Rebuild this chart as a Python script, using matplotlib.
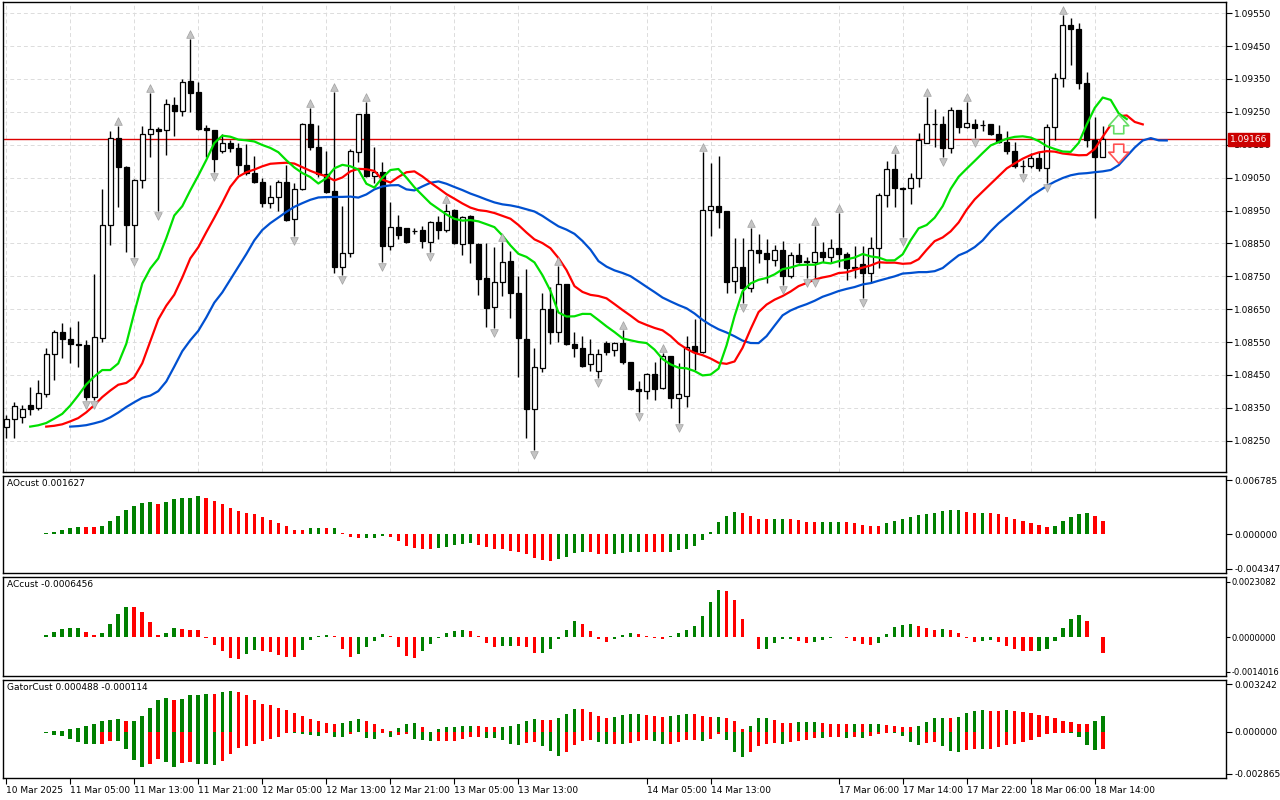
import numpy as np
import pandas as pd
import matplotlib
matplotlib.use("Agg")
import matplotlib.pyplot as plt
import matplotlib.transforms as mtransforms

# EURUSD H1, 10 Mar 21:00 .. 18 Mar
opens = [1.08292, 1.08316, 1.08322, 1.08359, 1.08350, 1.08392, 1.08514, 1.08581, 1.08559, 1.08544,
         1.08541, 1.08383, 1.08563, 1.08906, 1.09171, 1.09082, 1.08906, 1.09043, 1.09183, 1.09198,
         1.09195, 1.09271, 1.09253, 1.09344, 1.09310, 1.09201, 1.09195, 1.09131, 1.09155, 1.09140,
         1.09088, 1.09064, 1.09037, 1.08973, 1.08991, 1.09037, 1.08924, 1.09015, 1.09213, 1.09143,
         1.09061, 1.09009, 1.08778, 1.08821, 1.09128, 1.09243, 1.09055, 1.09067, 1.08842, 1.08900,
         1.08897, 1.08888, 1.08891, 1.08854, 1.08915, 1.08891, 1.08952, 1.08848, 1.08933, 1.08848,
         1.08745, 1.08657, 1.08733, 1.08797, 1.08699, 1.08559, 1.08347, 1.08471, 1.08651, 1.08581,
         1.08727, 1.08544, 1.08532, 1.08483, 1.08462, 1.08547, 1.08526, 1.08547, 1.08490, 1.08407,
         1.08401, 1.08453, 1.08411, 1.08508, 1.08380, 1.08386, 1.08538, 1.08520, 1.08952, 1.08964,
         1.08949, 1.08736, 1.08778, 1.08715, 1.08830, 1.08821, 1.08800, 1.08830, 1.08751, 1.08815,
         1.08794, 1.08794, 1.08824, 1.08809, 1.08836, 1.08818, 1.08778, 1.08787, 1.08760, 1.08836,
         1.08997, 1.09076, 1.09019, 1.09019, 1.09049, 1.09155, 1.09213, 1.09213, 1.09140, 1.09256,
         1.09204, 1.09213, 1.09210, 1.09213, 1.09183, 1.09158, 1.09131, 1.09085, 1.09085, 1.09110,
         1.09079, 1.09204, 1.09353, 1.09514, 1.09502, 1.09338, 1.09164, 1.09113]
highs = [1.08328, 1.08368, 1.08359, 1.08414, 1.08435, 1.08532, 1.08587, 1.08608, 1.08596, 1.08614,
         1.08556, 1.08757, 1.09015, 1.09192, 1.09207, 1.09085, 1.09046, 1.09207, 1.09307, 1.09204,
         1.09289, 1.09295, 1.09350, 1.09471, 1.09341, 1.09210, 1.09195, 1.09183, 1.09164, 1.09155,
         1.09152, 1.09116, 1.09049, 1.09028, 1.09043, 1.09088, 1.09034, 1.09216, 1.09262, 1.09210,
         1.09131, 1.09310, 1.08964, 1.09137, 1.09243, 1.09280, 1.09143, 1.09098, 1.08976, 1.08936,
         1.08897, 1.08897, 1.08903, 1.08918, 1.08933, 1.08970, 1.08955, 1.08933, 1.08936, 1.08851,
         1.08851, 1.08839, 1.08854, 1.08827, 1.08751, 1.08772, 1.08532, 1.08699, 1.08718, 1.08781,
         1.08727, 1.08581, 1.08569, 1.08559, 1.08529, 1.08553, 1.08550, 1.08587, 1.08490, 1.08432,
         1.08456, 1.08490, 1.08517, 1.08508, 1.08487, 1.08569, 1.08620, 1.09128, 1.09095, 1.09116,
         1.08949, 1.08867, 1.08867, 1.08897, 1.08879, 1.08863, 1.08845, 1.08857, 1.08824, 1.08851,
         1.08809, 1.08903, 1.08854, 1.08863, 1.08943, 1.08824, 1.08842, 1.08842, 1.08870, 1.09003,
         1.09101, 1.09122, 1.09022, 1.09064, 1.09186, 1.09295, 1.09259, 1.09237, 1.09265, 1.09256,
         1.09280, 1.09228, 1.09225, 1.09213, 1.09210, 1.09192, 1.09158, 1.09104, 1.09125, 1.09128,
         1.09213, 1.09368, 1.09544, 1.09535, 1.09520, 1.09371, 1.09234, 1.09207]
lows = [1.08258, 1.08258, 1.08304, 1.08328, 1.08344, 1.08383, 1.08435, 1.08502, 1.08487, 1.08474,
        1.08374, 1.08374, 1.08550, 1.08845, 1.08961, 1.08824, 1.08809, 1.09019, 1.09113, 1.08949,
        1.09119, 1.09177, 1.09237, 1.09250, 1.09195, 1.09113, 1.09067, 1.09125, 1.09128, 1.09058,
        1.09058, 1.09034, 1.08961, 1.08958, 1.08949, 1.08918, 1.08873, 1.09012, 1.09134, 1.09052,
        1.09003, 1.08760, 1.08754, 1.08809, 1.09098, 1.09052, 1.09034, 1.08794, 1.08830, 1.08863,
        1.08851, 1.08879, 1.08836, 1.08824, 1.08863, 1.08885, 1.08848, 1.08815, 1.08791, 1.08693,
        1.08596, 1.08593, 1.08690, 1.08623, 1.08444, 1.08258, 1.08222, 1.08459, 1.08544, 1.08550,
        1.08541, 1.08505, 1.08474, 1.08462, 1.08441, 1.08511, 1.08508, 1.08483, 1.08404, 1.08338,
        1.08377, 1.08374, 1.08407, 1.08350, 1.08304, 1.08353, 1.08465, 1.08517, 1.08873, 1.08897,
        1.08699, 1.08699, 1.08669, 1.08702, 1.08791, 1.08730, 1.08781, 1.08724, 1.08745, 1.08791,
        1.08745, 1.08745, 1.08794, 1.08794, 1.08778, 1.08739, 1.08745, 1.08684, 1.08730, 1.08775,
        1.08961, 1.08961, 1.08870, 1.08970, 1.09022, 1.09155, 1.09143, 1.09113, 1.09125, 1.09186,
        1.09201, 1.09171, 1.09192, 1.09180, 1.09155, 1.09122, 1.09079, 1.09064, 1.09079, 1.09070,
        1.09034, 1.09164, 1.09326, 1.09392, 1.09319, 1.09143, 1.08927, 1.09113]
closes = [1.08316, 1.08356, 1.08347, 1.08347, 1.08395, 1.08514, 1.08581, 1.08559, 1.08544, 1.08541,
          1.08383, 1.08566, 1.08906, 1.09171, 1.09082, 1.08906, 1.09043, 1.09183, 1.09198, 1.09192,
          1.09274, 1.09253, 1.09341, 1.09307, 1.09198, 1.09195, 1.09107, 1.09155, 1.09140, 1.09088,
          1.09064, 1.09037, 1.08973, 1.08991, 1.09037, 1.08921, 1.09015, 1.09213, 1.09143, 1.09061,
          1.09006, 1.08778, 1.08821, 1.09131, 1.09243, 1.09055, 1.09067, 1.08842, 1.08900, 1.08876,
          1.08854, 1.08888, 1.08857, 1.08915, 1.08891, 1.08949, 1.08851, 1.08930, 1.08851, 1.08742,
          1.08654, 1.08733, 1.08794, 1.08699, 1.08563, 1.08347, 1.08474, 1.08651, 1.08581, 1.08727,
          1.08544, 1.08532, 1.08477, 1.08514, 1.08514, 1.08520, 1.08547, 1.08490, 1.08407, 1.08401,
          1.08453, 1.08407, 1.08508, 1.08380, 1.08392, 1.08535, 1.08520, 1.08952, 1.08964, 1.08946,
          1.08733, 1.08778, 1.08715, 1.08830, 1.08821, 1.08803, 1.08830, 1.08751, 1.08815, 1.08794,
          1.08794, 1.08824, 1.08809, 1.08836, 1.08818, 1.08775, 1.08775, 1.08760, 1.08836, 1.08997,
          1.09076, 1.09019, 1.09015, 1.09049, 1.09164, 1.09213, 1.09213, 1.09140, 1.09256, 1.09204,
          1.09216, 1.09201, 1.09210, 1.09183, 1.09158, 1.09131, 1.09085, 1.09085, 1.09110, 1.09079,
          1.09204, 1.09353, 1.09514, 1.09502, 1.09338, 1.09164, 1.09113, 1.09166]

last_price = 1.09166
tick_bars = [0, 8, 16, 24, 32, 40, 48, 56, 64, 80, 88, 104, 112, 120, 128, 136]
tick_labels = ["10 Mar 2025", "11 Mar 05:00", "11 Mar 13:00", "11 Mar 21:00", "12 Mar 05:00",
               "12 Mar 13:00", "12 Mar 21:00", "13 Mar 05:00", "13 Mar 13:00", "14 Mar 05:00",
               "14 Mar 13:00", "17 Mar 06:00", "17 Mar 14:00", "17 Mar 22:00", "18 Mar 06:00",
               "18 Mar 14:00"]

o = np.array(opens); h = np.array(highs); l = np.array(lows); c = np.array(closes)
n = len(c)
idx = np.arange(n)
med = pd.Series((h + l) / 2)

def smma(s, p):
    return s.ewm(alpha=1.0 / p, adjust=False).mean().values

jaw = smma(med, 13); teeth = smma(med, 8); lips = smma(med, 5)
ao = (med.rolling(5, min_periods=1).mean() - med.rolling(34, min_periods=1).mean()).values
ac = ao - pd.Series(ao).rolling(5, min_periods=1).mean().values
# gator uses the shifted lines
jaw_s = np.r_[np.full(8, jaw[0]), jaw][:n]
teeth_s = np.r_[np.full(5, teeth[0]), teeth][:n]
lips_s = np.r_[np.full(3, lips[0]), lips][:n]
g_up = np.abs(jaw_s - teeth_s)
g_dn = -np.abs(teeth_s - lips_s)

GREEN = "#008000"
RED = "#ff0000"

def rise_colors(v, absval=False):
    a = np.abs(v) if absval else v
    cols = [GREEN]
    for i in range(1, len(v)):
        cols.append(GREEN if a[i] > a[i - 1] else RED)
    return cols

plt.rcParams["font.family"] = ["DejaVu Sans"]
plt.rcParams["font.size"] = 6.5
fig = plt.figure(figsize=(12.8, 8), dpi=100)
L, W = 3 / 1280, 1223 / 1280
ax = fig.add_axes([L, 1 - 472 / 800, W, 470 / 800])
ax_ao = fig.add_axes([L, 1 - 573 / 800, W, 97 / 800], sharex=ax)
ax_ac = fig.add_axes([L, 1 - 676 / 800, W, 99 / 800], sharex=ax)
ax_g = fig.add_axes([L, 1 - 778 / 800, W, 98 / 800], sharex=ax)

# --- main price panel ---
ax.set_ylim(1.08155, 1.09584)
ax.set_xlim(-0.4, 152.4)
yt = np.arange(1.0825, 1.09551, 0.001)
ax.set_yticks(yt)
ax.set_yticklabels(["%.5f" % v for v in yt])
ax.set_xticks(np.arange(0, 153, 4))
ax.grid(True, color="#dcdcdc", linestyle=(0, (4, 3)), linewidth=0.7)
ax.set_axisbelow(True)

ax.vlines(idx, l, h, color="black", linewidth=1, zorder=2)
up = c >= o
body_lo = np.minimum(o, c)
body_h = np.maximum(np.abs(c - o), 0.000012)
ax.bar(idx, body_h, bottom=body_lo, width=0.6, color=np.where(up, "white", "black"),
       edgecolor="black", linewidth=0.9, zorder=3)

ax.plot(idx + 8, jaw, color="#0050d0", linewidth=1.6, zorder=4)
ax.plot(idx + 5, teeth, color="#ff0000", linewidth=1.6, zorder=4)
ax.plot(idx + 3, lips, color="#00e000", linewidth=1.6, zorder=4)

# fractals
for i in range(2, n - 2):
    if h[i] == h[i - 2:i + 3].max():
        ax.scatter(i, h[i] + 0.00016, marker="^", s=30, color="#c4c4c4", edgecolor="#a0a0a0",
                   linewidth=0.5, zorder=5)
    if l[i] == l[i - 2:i + 3].min():
        ax.scatter(i, l[i] - 0.00016, marker="v", s=30, color="#c4c4c4", edgecolor="#a0a0a0",
                   linewidth=0.5, zorder=5)

# signal arrows
arrow_style = "simple,head_width=0.9,head_length=0.5,tail_width=0.45"
ax.annotate("", xy=(139, 1.09250), xytext=(139, 1.09175),
            arrowprops=dict(arrowstyle=arrow_style, mutation_scale=16,
                            facecolor="white", edgecolor="#66dd66", linewidth=1.2), zorder=6)
ax.annotate("", xy=(139, 1.09085), xytext=(139, 1.09160),
            arrowprops=dict(arrowstyle=arrow_style, mutation_scale=16,
                            facecolor="white", edgecolor="#ff5050", linewidth=1.2), zorder=6)

ax.axhline(last_price, color="#dd0000", linewidth=1, zorder=1)
trans = mtransforms.blended_transform_factory(ax.transAxes, ax.transData)
ax.text(1.003, last_price, "%.5f" % last_price, transform=trans, va="center", ha="left",
        color="white", fontsize=6.5, bbox=dict(boxstyle="square,pad=0.2", facecolor="#cc0000",
                                               edgecolor="#cc0000"), zorder=10, clip_on=False)

# --- sub panels ---
def setup_sub(a, lo, hi, fmt, title, size=6.5):
    pad = (hi - lo) * 0.05
    a.set_ylim(lo - pad, hi + pad)
    a.set_yticks([hi, 0.0, lo])
    a.set_yticklabels([fmt % hi, fmt % 0.0, fmt % lo])
    a.tick_params(axis="y", labelsize=size)
    a.text(0.003, 0.97, title, transform=a.transAxes, va="top", ha="left", fontsize=6.5)

for a in (ax, ax_ao, ax_ac, ax_g):
    a.yaxis.tick_right()
    a.tick_params(axis="y", length=4, width=0.8, pad=2, labelsize=6.5)
    for sp in a.spines.values():
        sp.set_color("black")
        sp.set_linewidth(1)

ax_ao.bar(idx, ao, width=0.45, color=rise_colors(ao))
setup_sub(ax_ao, -0.004347, 0.006785, "%.6f", "AOcust 0.001627")
ax_ac.bar(idx, ac, width=0.45, color=rise_colors(ac))
setup_sub(ax_ac, -0.0014016, 0.0023082, "%.7f", "ACcust -0.0006456", size=6)
ax_ac.tick_params(axis="y", pad=1, length=3)
ax_g.bar(idx, g_up, width=0.45, color=rise_colors(g_up, True))
ax_g.bar(idx, g_dn, width=0.45, color=rise_colors(g_dn, True))
setup_sub(ax_g, -0.002865, 0.003242, "%.6f", "GatorCust 0.000488 -0.000114")

for a in (ax, ax_ao, ax_ac):
    a.tick_params(axis="x", bottom=False, labelbottom=False)

ax_g.set_xticks(tick_bars)
ax_g.set_xticklabels(tick_labels, ha="left")
ax_g.tick_params(axis="x", length=4, width=0.8, pad=2, labelsize=6.5)

fig.savefig("out.png", dpi=100, facecolor="white")
